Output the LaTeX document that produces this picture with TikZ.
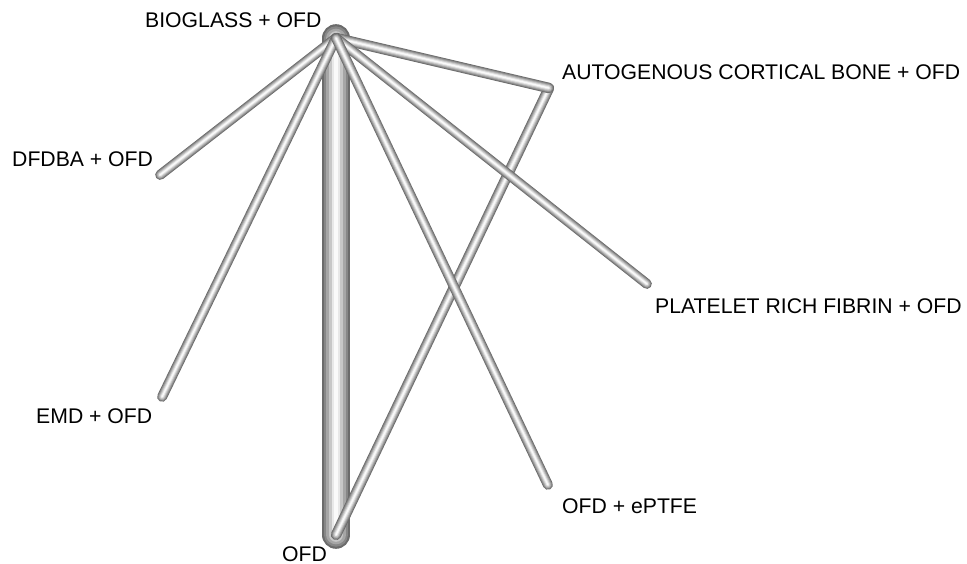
\documentclass[tikz,border=0pt]{standalone}
\usepackage{fontspec}
\setmainfont{Liberation Sans}
\usetikzlibrary{calc,positioning}
\tikzset{
    x=1pt, y=-1pt,
    point/.style = {circle, inner sep=0pt, minimum size=0pt},
    lbl/.style = {inner sep=0pt, anchor=base west, font=\fontsize{21.2}{25}\selectfont}
}
\newcommand{\tube}[3]{%
  \foreach \f/\c in {1/58,0.85/47,0.68/35,0.5/22,0.3/9,0.12/2}
    \draw[line cap=round, line width=\f*#3pt, black!\c] (#1) -- (#2);
}

\begin{document}
\begin{tikzpicture}
    \useasboundingbox (0,0) rectangle (967,564);
    \node[point] (bio) at (336,38) {};
    \node[point] (ofd) at (336,535) {};
    \node[point] (dfdba) at (160,175) {};
    \node[point] (emd) at (162,397) {};
    \node[point] (acb) at (549,88) {};
    \node[point] (prf) at (647,284) {};
    \node[point] (ptfe) at (548,485) {};

    \node[lbl] (lbio) at (145,28) {BIOGLASS + OFD};
    \node[lbl] (lofd) at (282,561) {OFD};
    \node[lbl] (ldfdba) at (12,167) {DFDBA + OFD};
    \node[lbl] (lemd) at (36,423) {EMD + OFD};
    \node[lbl] (lacb) at (562,80) {AUTOGENOUS CORTICAL BONE + OFD};
    \node[lbl] (lprf) at (655,313) {PLATELET RICH FIBRIN + OFD};
    \node[lbl] (lptfe) at (562,513) {OFD + ePTFE};

    % edges, thick one first
    \tube{bio}{ofd}{28}
    \tube{acb}{ofd}{10.5}
    \tube{bio}{dfdba}{10}
    \tube{bio}{emd}{10}
    \tube{bio}{acb}{10.5}
    \tube{bio}{prf}{10}
    \tube{bio}{ptfe}{10}
\end{tikzpicture}
\end{document}
